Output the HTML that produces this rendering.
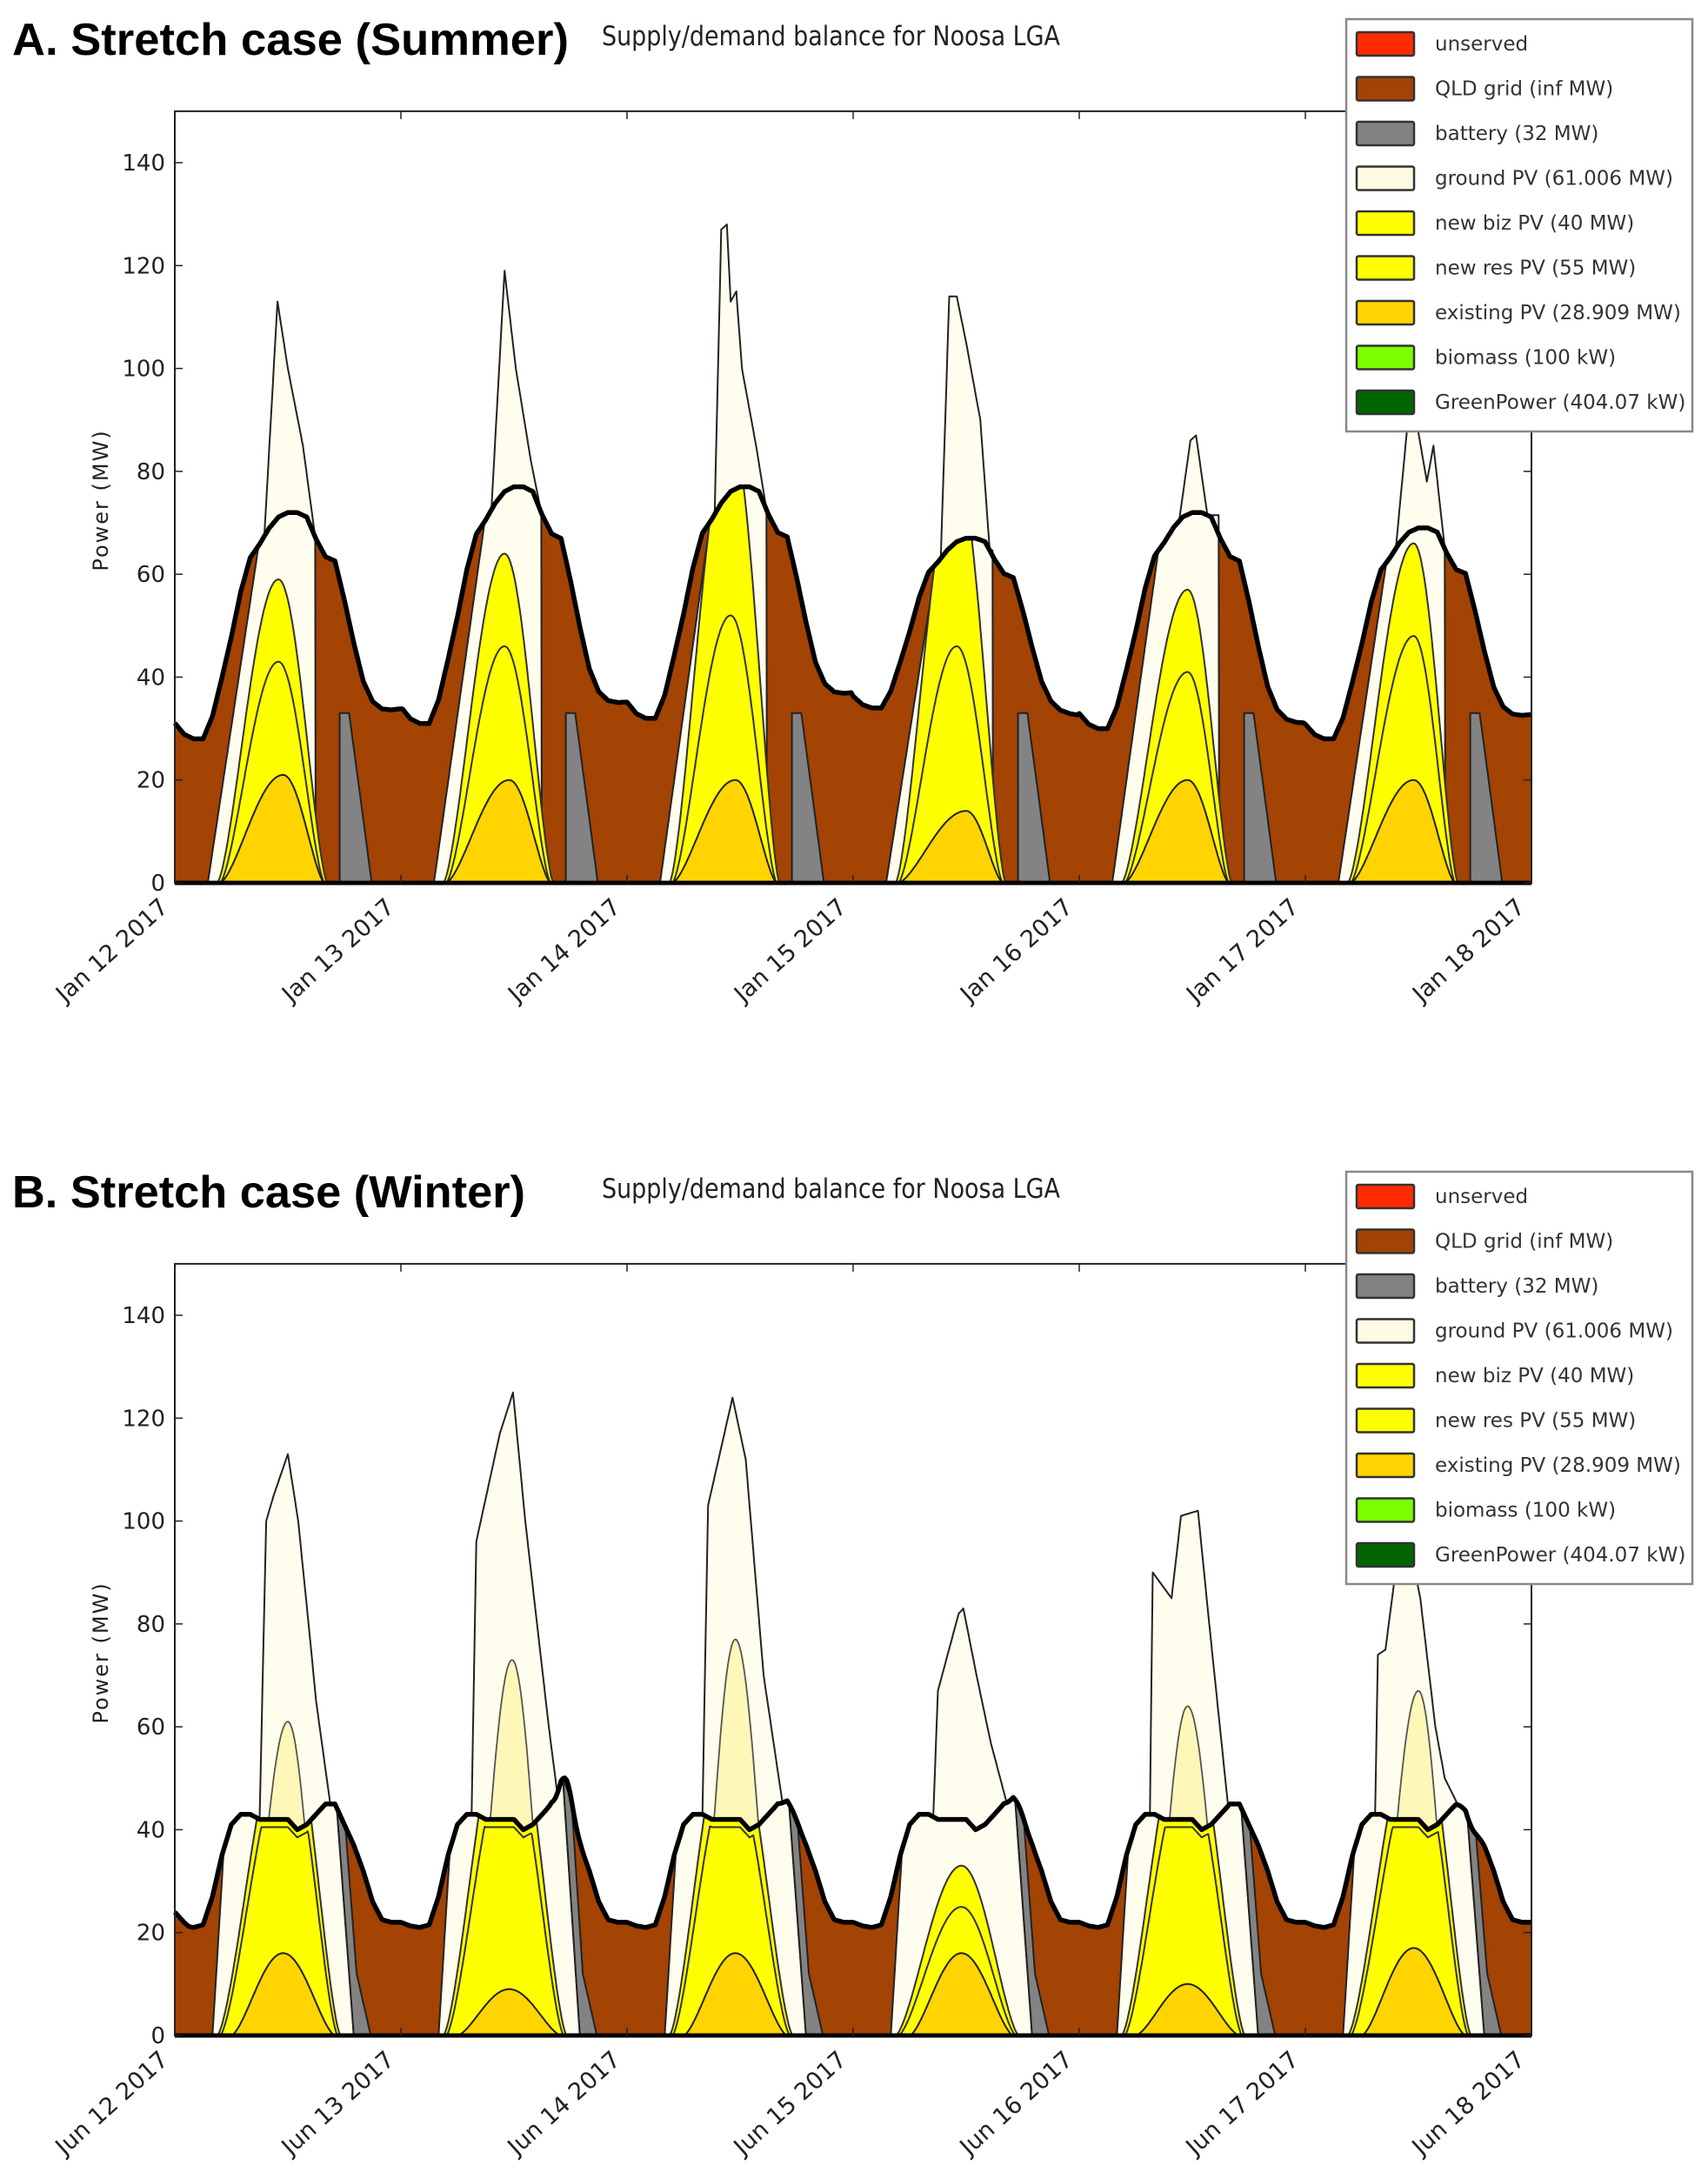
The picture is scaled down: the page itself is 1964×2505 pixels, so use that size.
<!DOCTYPE html>
<html><head><meta charset="utf-8">
<style>
html,body{margin:0;padding:0;background:#fff;}
svg{display:block;}
text{font-family:"DejaVu Sans","Liberation Sans",sans-serif;}
</style></head>
<body>
<svg id="s" width="1964" height="2505" viewBox="0 0 1964 2505" xmlns="http://www.w3.org/2000/svg">
<rect width="1964" height="2505" fill="#fff"/>
<g id="A"></g>
<g id="B"></g>
<text x="14" y="63" font-weight="bold" font-size="52" textLength="640" lengthAdjust="spacingAndGlyphs" style="font-family:'Liberation Sans',sans-serif">A. Stretch case (Summer)</text>
<text x="692" y="52" font-size="31" fill="#222" textLength="527" lengthAdjust="spacingAndGlyphs">Supply/demand balance for Noosa LGA</text>
<text x="14" y="1388" font-weight="bold" font-size="52" textLength="590" lengthAdjust="spacingAndGlyphs" style="font-family:'Liberation Sans',sans-serif">B. Stretch case (Winter)</text>
<text x="692" y="1377" font-size="31" fill="#222" textLength="527" lengthAdjust="spacingAndGlyphs">Supply/demand balance for Noosa LGA</text>
</svg>
<script>
(function(){
var NS="http://www.w3.org/2000/svg";
var X0=201,XW=1560/144,K=5.914;
function X(t){return X0+t*XW;}
function el(g,tag,at,txt){var e=document.createElementNS(NS,tag);for(var k in at)e.setAttribute(k,at[k]);if(txt!=null)e.textContent=txt;g.appendChild(e);return e;}
function interp(pts,t){if(t<=pts[0][0])return pts[0][1];for(var i=1;i<pts.length;i++){if(t<=pts[i][0]){var a=pts[i-1],b=pts[i];return a[1]+(b[1]-a[1])*(t-a[0])/(b[0]-a[0]);}}return pts[pts.length-1][1];}
function bell(t,s,e,c,P){if(t<=s||t>=e)return 0;var u=t<c?(t-s)/(c-s)*0.5:0.5+(t-c)/(e-c)*0.5;return P*Math.pow(Math.sin(Math.PI*u),1.5);}

var shp=[.07,.02,0,0,.1,.27,.45,.65,.80,.86,.93,.98,1,1,.98,.88,.80,.78,.6,.4,.22,.12,.08,.07,.07];
var mnS=[28,31,32,34,30,28,30],pkS=[72,77,77,67,72,69];
function dS(t){var d=Math.min(5,Math.floor(t/24)),h=t-24*d;var s=interp(shp.map(function(v,i){return[i,v];}),h);
 var mn=h<12?mnS[d]:mnS[d]+(mnS[d+1]-mnS[d])*(h-12)/12;return mn+(pkS[d]-mn)*s;}
var wb=[22,21.3,21,21.5,27,35,41,43,43,42,42,42,42,40,41,43,45,45,41,37,32,26,22.5,22,22];
var bump=[0,7,1,2,0,-2];
function dW(t){var d=Math.min(5,Math.floor(t/24)),h=t-24*d;var v=interp(wb.map(function(v,i){return[i,v];}),h);
 if(t<1.5)v+=2*(1.5-t)/1.5;
 v+=bump[d]*Math.exp(-Math.pow((h-17.6)/0.9,2));return v;}

function panel(gid,off,D,cfg,mon){
 var g=document.getElementById(gid);
 function Y(v){return 1015+off-Math.min(v,150)*K;}
 function poly(pts,fill,stroke,sw){var s=pts.map(function(p){return X(p[0]).toFixed(1)+','+Y(p[1]).toFixed(1);}).join(' ');
  return el(g,'polygon',{points:s,fill:fill,stroke:stroke||'none','stroke-width':sw||0,'stroke-linejoin':'round'});}
 function line(pts,stroke,sw){var s=pts.map(function(p){return X(p[0]).toFixed(1)+','+Y(p[1]).toFixed(1);}).join(' ');
  return el(g,'polyline',{points:s,fill:'none',stroke:stroke,'stroke-width':sw,'stroke-linejoin':'round'});}
 var bp=[[0,0]];for(var t=0;t<=144.001;t+=0.2)bp.push([t,D(t)]);bp.push([144,0]);
 poly(bp,'#a34304');
 for(var d=0;d<6;d++){
  var c=cfg.days[d],o=24*d;
  var gp=[[o+c.a,0]];var bv=D(o+c.b);
  for(var t=c.a;t<c.b;t+=0.1)gp.push([o+t,bv*(t-c.a)/(c.b-c.a)]);
  var kp=[[c.b,bv]].concat(c.pts.map(function(p){return[p[0],p[1]==='D'?D(o+p[0]):p[1]];}));
  for(var t=c.b;t<=c.c+0.001;t+=0.1){var v=interp(kp,t);gp.push([o+t,Math.max(v,D(o+t))]);}
  gp.push([o+c.ce,0]);
  poly(gp,'#fffdee','#222',2);
  if(c.pale){var pp=[];for(var t=cfg.ys;t<=cfg.ye;t+=0.1){var yv=Math.min(bell(t,cfg.ys,cfg.ye,c.yc,c.yP),D(o+t));pp.push([o+t,Math.max(yv,bell(t,7.3,16,c.pc,c.pale))]);}
   pp.push([o+cfg.ye,0]);poly(pp,'#fdf8b8','#555',1.8);}
  var yp=[];for(var t=cfg.ys;t<=cfg.ye+0.001;t+=0.1)yp.push([o+t,Math.min(bell(t,cfg.ys,cfg.ye,c.yc,c.yP),D(o+t))]);
  poly(yp,'#ffff00','#333',2);
  var mp=[];for(var t=cfg.ys;t<=cfg.ye+0.001;t+=0.1)mp.push([o+t,Math.min(bell(t,cfg.ys+0.3,cfg.ye-0.3,c.yc,c.mP),D(o+t)-1.5)]);
  line(mp,'#333',2);
  var gdp=[];for(var t=cfg.gs;t<=cfg.ge+0.001;t+=0.1)gdp.push([o+t,bell(t,cfg.gs,cfg.ge,c.gc||11.5,c.gP)]);
  poly(gdp,'#ffd400','#222',2);
  var bt=cfg.bat.map(function(p){return[o+p[0],p[1]==='D'?D(o+p[0]):p[1]];});
  poly(bt,'#838383','#222',2);
 }
 var dl=[];for(var t=0;t<=144.001;t+=0.2)dl.push([t,D(t)]);line(dl,'#000',5.5);
 var top=Y(150),bot=Y(0);
 el(g,'rect',{x:X0,y:top,width:1560,height:bot-top,fill:'none',stroke:'#222','stroke-width':2});
 el(g,'line',{x1:X0,y1:bot,x2:X0+1560,y2:bot,stroke:'#000','stroke-width':5});
 for(var v=0;v<=140;v+=20){var y=Y(v);
  el(g,'line',{x1:X0,y1:y,x2:X0+9,y2:y,stroke:'#222','stroke-width':1.5});
  el(g,'line',{x1:X0+1560,y1:y,x2:X0+1551,y2:y,stroke:'#222','stroke-width':1.5});
  el(g,'text',{x:190,y:y+9,'text-anchor':'end','font-size':26,fill:'#222'},String(v));}
 for(var d=0;d<=6;d++){var x=X(24*d);
  el(g,'line',{x1:x,y1:top,x2:x,y2:top+9,stroke:'#222','stroke-width':1.5});
  el(g,'line',{x1:x,y1:bot,x2:x,y2:bot-9,stroke:'#222','stroke-width':1.5});
  el(g,'text',{x:0,y:0,'text-anchor':'end','font-size':27,fill:'#222',transform:'translate('+(x-6)+','+(bot+30)+') rotate(-42)'},mon+' '+(12+d)+' 2017');}
 el(g,'text',{x:0,y:0,'text-anchor':'middle','font-size':24,fill:'#222','letter-spacing':'2',transform:'translate(124,'+(575+off)+') rotate(-90)'},'Power (MW)');
 var ly=22+off;
 el(g,'rect',{x:1548,y:ly,width:398,height:474,fill:'#fff',stroke:'#888','stroke-width':2.5});
 var items=[['#ff2a00','unserved'],['#a34304','QLD grid (inf MW)'],['#838383','battery (32 MW)'],['#fffbe2','ground PV (61.006 MW)'],['#ffff00','new biz PV (40 MW)'],['#ffff00','new res PV (55 MW)'],['#ffd400','existing PV (28.909 MW)'],['#7cff00','biomass (100 kW)'],['#006400','GreenPower (404.07 kW)']];
 items.forEach(function(it,i){var cy=ly+28+i*51.5;
  el(g,'rect',{x:1560,y:cy-13,width:66,height:27,fill:it[0],stroke:'#333','stroke-width':2.5,rx:2});
  el(g,'text',{x:1650,y:cy+8,'font-size':23,fill:'#333'},it[1]);});
}

var summer={ys:4.5,ye:16.2,gs:4.8,ge:15.9,bat:[[17.5,0],[17.5,33],[18.5,33],[19.6,18],[20.9,0]],days:[
 {a:3.5,b:8.9,pts:[[9.5,'D'],[10.9,113],[12,100],[13.6,85],[14.9,'D']],c:14.9,ce:14.95,yc:11,yP:59,mP:43,gP:21},
 {a:3.5,b:8.9,pts:[[9.6,'D'],[11,119],[12.2,100],[13.8,82],[14.9,'D']],c:14.9,ce:14.95,yc:11,yP:64,mP:46,gP:20},
 {a:3.5,b:8.8,pts:[[9.3,'D'],[10.0,127],[10.6,128],[11.0,113],[11.6,115],[12.2,100],[13.7,85],[14.8,'D']],c:14.8,ce:14.85,yc:11,yP:88,mP:52,gP:20},
 {a:3.5,b:8.8,pts:[[9.3,'D'],[10.2,114],[11,114],[12,105],[13.5,90],[14.5,'D']],c:14.8,ce:14.85,yc:11,yP:80,mP:46,gP:14,gc:12},
 {a:3.5,b:8.4,pts:[[10.6,'D'],[11.8,86],[12.4,87],[13.6,'D']],c:14.8,ce:14.85,yc:11.5,yP:57,mP:41,gP:20},
 {a:3.5,b:8.6,pts:[[9.6,'D'],[11.2,96],[12.9,78],[13.6,85],[14.8,'D']],c:14.8,ce:14.85,yc:11.5,yP:66,mP:48,gP:20}]};
var winter={ys:4.5,ye:17.6,gs:6,ge:17,bat:[[19.0,0],[17.2,'D'],[18.1,'D'],[19.3,12],[20.8,0]],days:[
 {a:4.0,b:5.2,pts:[[9.0,'D'],[9.7,100],[10.5,105],[12,113],[13.1,100],[14.2,80],[15,65],[16.5,'D'],[17.2,'D']],c:17.2,ce:19.0,yc:12,yP:62,mP:55,gP:16,pale:61,pc:12},
 {a:4.0,b:5.2,pts:[[7.5,'D'],[8.0,96],[10.5,117],[11.9,125],[13.2,100],[15.7,60],[16.6,'D'],[17.2,'D']],c:17.2,ce:19.0,yc:11.5,yP:66,mP:55,gP:9,pale:73,pc:11.8},
 {a:4.0,b:5.2,pts:[[8,'D'],[8.6,103],[11.2,124],[12.6,112],[14.5,70],[16.5,'D'],[17.2,'D']],c:17.2,ce:19.0,yc:11,yP:62,mP:52,gP:16,pale:77,pc:11.5},
 {a:4.0,b:5.2,pts:[[8.5,'D'],[9.0,67],[11.2,82],[11.7,83],[13.1,70],[14.6,57],[16.3,'D'],[17.2,'D']],c:17.2,ce:19.0,yc:11.5,yP:33,mP:25,gP:16,pale:0},
 {a:4.0,b:5.2,pts:[[7.5,'D'],[7.8,90],[9.8,85],[10.8,101],[12.6,102],[13.8,80],[15.8,'D'],[17.2,'D']],c:17.2,ce:19.0,yc:11.5,yP:62,mP:52,gP:10,pale:64,pc:11.5},
 {a:4.0,b:5.2,pts:[[7.4,'D'],[7.7,74],[8.5,75],[9.7,92],[11,96],[12.2,85],[13.8,60],[14.8,50],[16.2,'D'],[17.2,'D']],c:17.2,ce:19.0,yc:12,yP:62,mP:54,gP:17,pale:67,pc:12}]};
panel('A',0,dS,summer,'Jan');
panel('B',1325,dW,winter,'Jun');
})();
</script>
</body></html>
